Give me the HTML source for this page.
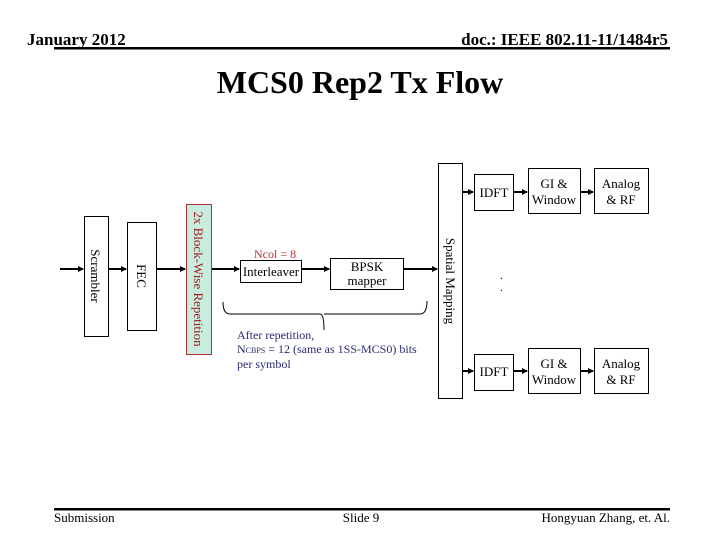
<!DOCTYPE html>
<html><head><meta charset="utf-8"><style>
html,body{margin:0;padding:0;background:#fff;}
svg{display:block;font-family:"Liberation Serif",serif;}
</style></head><body>
<svg width="720" height="540" viewBox="0 0 720 540" xmlns="http://www.w3.org/2000/svg">
<defs>
<marker id="a" markerWidth="6" markerHeight="6" refX="5" refY="3" orient="auto" markerUnits="userSpaceOnUse">
<path d="M0,0 L6,3 L0,6 z" fill="#000"/></marker>
</defs>
<!-- header -->
<text x="27" y="45" font-size="17" font-weight="bold">January 2012</text>
<text x="668" y="45" font-size="17" font-weight="bold" text-anchor="end">doc.: IEEE 802.11-11/1484r5</text>
<rect x="54" y="47" width="616" height="2.5" fill="#000"/>
<text x="360" y="93" font-size="32" font-weight="bold" text-anchor="middle">MCS0 Rep2 Tx Flow</text>
<!-- footer -->
<rect x="54" y="508" width="616" height="2.5" fill="#000"/>
<text x="54" y="522" font-size="13">Submission</text>
<text x="361" y="522" font-size="13" text-anchor="middle">Slide 9</text>
<text x="670" y="522" font-size="13" text-anchor="end">Hongyuan Zhang, et. Al.</text>

<g stroke="#000" stroke-width="2" fill="none">
<line x1="60" y1="269" x2="83" y2="269" marker-end="url(#a)"/>
<line x1="108" y1="269" x2="126" y2="269" marker-end="url(#a)"/>
<line x1="156" y1="269" x2="185" y2="269" marker-end="url(#a)"/>
<line x1="211" y1="269" x2="239" y2="269" marker-end="url(#a)"/>
<line x1="301" y1="269" x2="329" y2="269" marker-end="url(#a)"/>
<line x1="403" y1="269" x2="437" y2="269" marker-end="url(#a)"/>
<line x1="462" y1="192" x2="473" y2="192" marker-end="url(#a)"/>
<line x1="513" y1="192" x2="527" y2="192" marker-end="url(#a)"/>
<line x1="580" y1="192" x2="593" y2="192" marker-end="url(#a)"/>
<line x1="462" y1="371" x2="473" y2="371" marker-end="url(#a)"/>
<line x1="513" y1="371" x2="527" y2="371" marker-end="url(#a)"/>
<line x1="580" y1="371" x2="593" y2="371" marker-end="url(#a)"/>
</g>
<g stroke="#000" stroke-width="1" fill="#fff">
<rect x="84.5" y="216.5" width="24" height="120"/>
<rect x="127.5" y="222.5" width="29" height="108"/>
<rect x="240.5" y="260.5" width="61" height="22"/>
<rect x="330.5" y="258.5" width="73" height="31"/>
<rect x="438.5" y="163.5" width="24" height="235"/>
<rect x="474.5" y="174.5" width="39" height="36"/>
<rect x="528.5" y="168.5" width="52" height="45"/>
<rect x="594.5" y="168.5" width="54" height="45"/>
<rect x="474.5" y="354.5" width="39" height="36"/>
<rect x="528.5" y="348.5" width="52" height="45"/>
<rect x="594.5" y="348.5" width="54" height="45"/>
</g>
<rect x="186.5" y="204.5" width="25" height="150" fill="#c8ecde" stroke="#b03030" stroke-width="1"/>
<g font-size="13">
<text transform="translate(91,276) rotate(90)" text-anchor="middle">Scrambler</text>
<text transform="translate(137,276) rotate(90)" text-anchor="middle">FEC</text>
<text transform="translate(194,279) rotate(90)" text-anchor="middle" fill="#a02020">2x Block-Wise Repetition</text>
<text transform="translate(446,281) rotate(90)" text-anchor="middle">Spatial Mapping</text>
<text x="271" y="276" text-anchor="middle">Interleaver</text>
<text x="367" y="271" text-anchor="middle">BPSK</text>
<text x="367" y="285" text-anchor="middle">mapper</text>
<text x="494" y="197" text-anchor="middle">IDFT</text>
<text x="554" y="188" text-anchor="middle">GI &amp;</text>
<text x="554" y="204" text-anchor="middle">Window</text>
<text x="621" y="188" text-anchor="middle">Analog</text>
<text x="621" y="204" text-anchor="middle">&amp; RF</text>
<text x="494" y="376" text-anchor="middle">IDFT</text>
<text x="554" y="368" text-anchor="middle">GI &amp;</text>
<text x="554" y="384" text-anchor="middle">Window</text>
<text x="621" y="368" text-anchor="middle">Analog</text>
<text x="621" y="384" text-anchor="middle">&amp; RF</text>
</g>
<text x="254" y="258" font-size="12" fill="#c03030">Ncol = 8</text>
<g font-size="12" fill="#2a2a70">
<text x="237" y="339">After repetition,</text>
<text x="237" y="353">N<tspan font-size="8">CBPS</tspan> = 12 (same as 1SS-MCS0) bits</text>
<text x="237" y="368">per symbol</text>
</g>
<text x="500" y="279" font-size="12">.</text>
<text x="500" y="291" font-size="12">.</text>
<path d="M223,302 Q223,314 230,314 L320,314 Q324,314 324,330 M324,314 Q324,314 328,314 L420,314 Q427,314 427,301" stroke="#000" stroke-width="1" fill="none"/>
</svg>
</body></html>
